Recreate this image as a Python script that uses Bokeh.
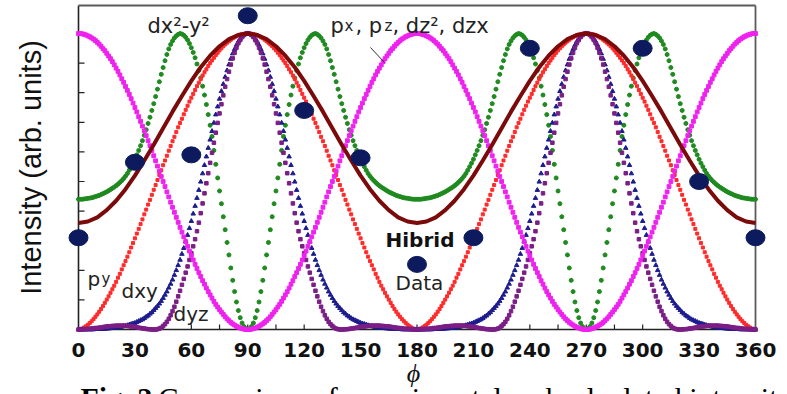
import math
from bokeh.plotting import figure
from bokeh.models import Label, Range1d
from bokeh.embed import file_html
from bokeh.resources import INLINE

# ---------------- data ----------------
# angle phi (deg) for one quarter period; curves are symmetric about 90 and periodic in 180
phi_quarter = list(range(0, 91))

# py (red dots)
py_q = [0.000, 0.001, 0.003, 0.007, 0.011, 0.016, 0.022, 0.028, 0.035, 0.043,
        0.051, 0.060, 0.069, 0.079, 0.090, 0.101, 0.112, 0.124, 0.136, 0.148,
        0.161, 0.175, 0.188, 0.203, 0.217, 0.231, 0.246, 0.261, 0.277, 0.292,
        0.308, 0.324, 0.340, 0.356, 0.372, 0.389, 0.405, 0.422, 0.438, 0.455,
        0.472, 0.488, 0.505, 0.522, 0.538, 0.555, 0.571, 0.587, 0.604, 0.620,
        0.636, 0.651, 0.667, 0.683, 0.698, 0.712, 0.727, 0.742, 0.756, 0.770,
        0.783, 0.796, 0.809, 0.822, 0.834, 0.846, 0.858, 0.869, 0.879, 0.890,
        0.900, 0.909, 0.918, 0.927, 0.935, 0.943, 0.950, 0.957, 0.963, 0.969,
        0.974, 0.979, 0.984, 0.987, 0.991, 0.994, 0.996, 0.998, 0.999, 1.000,
        1.000]

# px, pz, dz2, dzx (magenta dots)
pxz_q = [1.000, 1.000, 0.999, 0.997, 0.995, 0.992, 0.989, 0.985, 0.981, 0.976,
         0.970, 0.964, 0.957, 0.949, 0.942, 0.933, 0.924, 0.915, 0.905, 0.894,
         0.883, 0.872, 0.860, 0.847, 0.835, 0.821, 0.808, 0.794, 0.780, 0.765,
         0.750, 0.735, 0.719, 0.703, 0.687, 0.671, 0.655, 0.638, 0.621, 0.604,
         0.587, 0.570, 0.552, 0.535, 0.517, 0.500, 0.483, 0.465, 0.448, 0.430,
         0.413, 0.396, 0.379, 0.362, 0.345, 0.329, 0.313, 0.297, 0.281, 0.265,
         0.250, 0.235, 0.220, 0.206, 0.192, 0.179, 0.165, 0.153, 0.140, 0.128,
         0.117, 0.106, 0.095, 0.085, 0.076, 0.067, 0.059, 0.051, 0.043, 0.036,
         0.030, 0.024, 0.019, 0.015, 0.011, 0.008, 0.005, 0.003, 0.001, 0.000,
         0.000]

# dxy (dark blue triangles)
dxy_q = [0.000, 0.000, 0.000, 0.000, 0.000, 0.000, 0.000, 0.000, 0.000, 0.001,
         0.001, 0.001, 0.001, 0.002, 0.002, 0.003, 0.003, 0.004, 0.005, 0.005,
         0.006, 0.007, 0.008, 0.009, 0.011, 0.012, 0.014, 0.016, 0.018, 0.020,
         0.022, 0.025, 0.028, 0.031, 0.034, 0.038, 0.043, 0.047, 0.053, 0.058,
         0.065, 0.072, 0.079, 0.087, 0.096, 0.106, 0.117, 0.128, 0.141, 0.154,
         0.168, 0.184, 0.200, 0.217, 0.235, 0.255, 0.275, 0.297, 0.319, 0.342,
         0.366, 0.391, 0.417, 0.444, 0.471, 0.499, 0.527, 0.555, 0.584, 0.613,
         0.641, 0.670, 0.698, 0.726, 0.753, 0.779, 0.805, 0.829, 0.853, 0.875,
         0.895, 0.914, 0.932, 0.947, 0.961, 0.973, 0.982, 0.990, 0.996, 0.999,
         1.000]

# dyz (purple dots)
dyz_q = [0.000, 0.000, 0.000, 0.001, 0.001, 0.002, 0.002, 0.003, 0.004, 0.005,
         0.005, 0.006, 0.007, 0.008, 0.009, 0.010, 0.011, 0.011, 0.012, 0.012,
         0.013, 0.013, 0.013, 0.013, 0.013, 0.012, 0.012, 0.011, 0.010, 0.010,
         0.009, 0.008, 0.006, 0.005, 0.004, 0.003, 0.002, 0.001, 0.001, 0.000,
         0.000, 0.000, 0.001, 0.003, 0.006, 0.012, 0.018, 0.026, 0.036, 0.048,
         0.062, 0.077, 0.094, 0.112, 0.131, 0.151, 0.171, 0.192, 0.213, 0.235,
         0.258, 0.281, 0.305, 0.332, 0.361, 0.393, 0.426, 0.460, 0.494, 0.528,
         0.563, 0.597, 0.631, 0.665, 0.698, 0.730, 0.761, 0.791, 0.820, 0.846,
         0.871, 0.895, 0.916, 0.935, 0.952, 0.967, 0.978, 0.988, 0.995, 0.999,
         1.000]

# dx2-y2 (green dots)
dx2y2_q = [0.440, 0.440, 0.440, 0.441, 0.442, 0.443, 0.444, 0.445, 0.447, 0.449,
           0.451, 0.453, 0.456, 0.459, 0.462, 0.465, 0.469, 0.473, 0.477, 0.481,
           0.486, 0.491, 0.497, 0.503, 0.510, 0.518, 0.527, 0.538, 0.550, 0.562,
           0.575, 0.590, 0.605, 0.621, 0.638, 0.656, 0.675, 0.696, 0.717, 0.740,
           0.763, 0.787, 0.812, 0.837, 0.862, 0.885, 0.908, 0.929, 0.948, 0.963,
           0.975, 0.985, 0.992, 0.997, 1.000, 0.998, 0.994, 0.987, 0.978, 0.966,
           0.952, 0.936, 0.918, 0.897, 0.875, 0.850, 0.822, 0.792, 0.760, 0.726,
           0.690, 0.652, 0.605, 0.558, 0.512, 0.468, 0.425, 0.381, 0.337, 0.294,
           0.252, 0.208, 0.166, 0.128, 0.093, 0.064, 0.040, 0.022, 0.010, 0.003,
           0.000]

# Hibrid (dark red line), every 5 deg from 0 to 90
phi_hib_quarter = list(range(0, 91, 5))
hibrid_q = [0.360, 0.365, 0.379, 0.403, 0.435, 0.474, 0.520, 0.571, 0.624, 0.680,
            0.736, 0.789, 0.840, 0.886, 0.925, 0.957, 0.981, 0.995, 1.000]

# measured data (navy ellipses)
data_phi = [0, 30, 60, 90, 120, 150, 180, 210, 240, 300, 330, 360]
data_int = [0.31, 0.565, 0.59, 1.06, 0.74, 0.58, 0.22, 0.31, 0.95, 0.95, 0.50, 0.31]

# axis ticks
x_label_ticks = list(range(0, 361, 30))
x_all_ticks = list(range(15, 360, 15))
y_ticks = [0.1, 0.2, 0.3, 0.4, 0.5, 0.6, 0.7, 0.8, 0.9, 1.0]

for q in (py_q, pxz_q, dxy_q, dyz_q, dx2y2_q):
    assert len(q) == 91, len(q)
assert len(hibrid_q) == 19


def full_period(q):
    half = q + q[-2::-1]          # 0 .. 180 (mirror about 90)
    return half + half[1:]        # 0 .. 360 (period 180)


phi = list(range(0, 361))
py = full_period(py_q)
pxz = full_period(pxz_q)
dxy = full_period(dxy_q)
dyz = full_period(dyz_q)
dx2y2 = full_period(dx2y2_q)
phi_hib = list(range(0, 361, 5))
hibrid = full_period(hibrid_q)

# ---------------- figure: the frame covers the whole canvas ----------------
W, H = 787, 394
X0, X360 = 78.0, 755.0      # pixel column of phi = 0 and phi = 360
Y0, Y1 = 329.0, 33.0        # pixel row of intensity 0 and 1
PXD = (X360 - X0) / 360.0
PYU = (Y0 - Y1)


def X(px):
    return (px - X0) / PXD


def Y(py_):
    return (Y0 - py_) / PYU


p = figure(width=W, height=H,
           x_range=Range1d(X(0), X(W)), y_range=Range1d(Y(H), Y(0)),
           output_backend="svg", toolbar_location=None,
           x_axis_location=None, y_axis_location=None,
           min_border_left=0, min_border_right=0, min_border_top=0, min_border_bottom=0)
p.outline_line_color = None
p.grid.visible = False
p.background_fill_color = "white"
p.border_fill_color = "white"

# frame
top = Y(5)
p.segment(x0=[0, 0], y0=[0, 0], x1=[360, 0], y1=[0, top], line_color="#222222", line_width=1.6)
p.segment(x0=[0, 360], y0=[top, top], x1=[360, 360], y1=[top, 0], line_color="#5a5a5a", line_width=1.8)
# inward ticks
p.segment(x0=x_all_ticks, y0=[0] * len(x_all_ticks), x1=x_all_ticks,
          y1=[5.0 / PYU] * len(x_all_ticks), line_color="#222222", line_width=1.2)
p.segment(x0=[0] * len(y_ticks), y0=y_ticks, x1=[6.0 / PXD] * len(y_ticks), y1=y_ticks,
          line_color="#222222", line_width=1.2)

# curves
p.scatter(phi, dx2y2, marker="circle", size=4, color="#1f8a1f")
p.scatter(phi, py, marker="square", size=3, color="#ff2a2a")
p.scatter(phi, dxy, marker="triangle", size=4.5, color="#1c1c8f")
p.scatter(phi, dyz, marker="square", size=3.5, color="#7b1e86")
p.scatter(phi, pxz, marker="square", size=3.8, color="#ee22ee")
p.line(phi_hib, hibrid, line_width=4, color="#7b0a0a")
p.ellipse(data_phi, data_int, width=19 / PXD, height=16 / PYU, color="#0d1b5e")

# leader line
p.segment(x0=[X(370)], y0=[Y(47)], x1=[X(384)], y1=[Y(62)], line_color="#333333", line_width=1)


def lab(text, px, py_, size="20px", font="DejaVu Sans", style="normal", base="alphabetic",
        align="left", angle=0.0, color="#222222"):
    p.add_layout(Label(x=X(px), y=Y(py_), text=text, text_font=font,
                       text_font_size=size, text_font_style=style, text_baseline=base,
                       text_align=align, angle=angle, text_color=color))


# tick labels
for t in x_label_ticks:
    lab(str(t), X0 + t * PXD, 349, size="20px", style="bold", align="center", color="#111111")

lab("dx²-y²", 147, 25, size="21px")
lab("p", 330, 25, size="21px")
lab("x", 344, 25, size="15px")
lab(", p", 355, 25, size="21px")
lab("z", 384, 25, size="15px")
lab(" , dz², dzx", 392, 25, size="21px")
lab("p", 87, 278)
lab("y", 101, 278, size="15px")
lab("dxy", 121, 290)
lab("dyz", 173, 313)
lab("Hibrid", 385, 239, style="bold", color="#111111")
lab("Data", 395, 282)

lab("Intensity (arb. units)", 30, 167, size="29px", font="Liberation Sans", base="middle",
    align="center", angle=math.pi / 2, color="#111111")
lab("ϕ", 413, 373, size="26px", font="Liberation Serif", style="italic", base="middle",
    align="center", color="#111111")
lab("Fig. 2", 80, 397, size="30px", font="Liberation Serif", style="bold", color="#000000")
lab("Comparison of experimental and calculated intensity", 158, 397, size="30px",
    font="Liberation Serif", color="#000000")

open("out.html", "w").write(file_html(p, INLINE))
